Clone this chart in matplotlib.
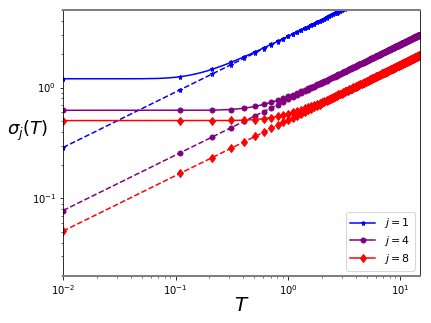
import numpy as np
import matplotlib
matplotlib.use('Agg')
import matplotlib.pyplot as plt
from matplotlib.lines import Line2D

# temperatures (marker positions)
T = [0.01, 0.11, 0.21, 0.31, 0.41, 0.51, 0.61, 0.71, 0.81, 0.91,
     1.01, 1.11, 1.21, 1.31, 1.41, 1.51, 1.61, 1.71, 1.81, 1.91,
     2.01, 2.11, 2.21, 2.31, 2.41, 2.51, 2.61, 2.71, 2.81, 2.91,
     3.01, 3.11, 3.21, 3.31, 3.41, 3.51, 3.61, 3.71, 3.81, 3.91,
     4.01, 4.11, 4.21, 4.31, 4.41, 4.51, 4.61, 4.71, 4.81, 4.91,
     5.01, 5.11, 5.21, 5.31, 5.41, 5.51, 5.61, 5.71, 5.81, 5.91,
     6.01, 6.11, 6.21, 6.31, 6.41, 6.51, 6.61, 6.71, 6.81, 6.91,
     7.01, 7.11, 7.21, 7.31, 7.41, 7.51, 7.61, 7.71, 7.81, 7.91,
     8.01, 8.11, 8.21, 8.31, 8.41, 8.51, 8.61, 8.71, 8.81, 8.91,
     9.01, 9.11, 9.21, 9.31, 9.41, 9.51, 9.61, 9.71, 9.81, 9.91,
     10.01, 10.11, 10.21, 10.31, 10.41, 10.51, 10.61, 10.71, 10.81, 10.91,
     11.01, 11.11, 11.21, 11.31, 11.41, 11.51, 11.61, 11.71, 11.81, 11.91,
     12.01, 12.11, 12.21, 12.31, 12.41, 12.51, 12.61, 12.71, 12.81, 12.91,
     13.01, 13.11, 13.21, 13.31, 13.41, 13.51, 13.61, 13.71, 13.81, 13.91,
     14.01, 14.11, 14.21, 14.31, 14.41, 14.51, 14.61, 14.71, 14.81, 14.91]

# j = 1 (visible part, up to the top of the frame)
sigma1_solid = [1.200, 1.252, 1.456, 1.683, 1.897, 2.095, 2.279, 2.450, 2.611, 2.763,
                2.908, 3.046, 3.178, 3.305, 3.428, 3.546, 3.661, 3.772, 3.880, 3.985,
                4.087, 4.187, 4.285, 4.380, 4.474, 4.565, 4.655, 4.743, 4.830, 4.915,
                4.998, 5.081, 5.161, 5.241]
sigma1_dashed = [0.2879, 0.955, 1.319, 1.603, 1.843, 2.056, 2.249, 2.426, 2.591, 2.746,
                 2.893, 3.033, 3.167, 3.295, 3.419, 3.538, 3.653, 3.765, 3.873, 3.979,
                 4.082, 4.182, 4.280, 4.376, 4.469, 4.561, 4.651, 4.739, 4.826, 4.911,
                 4.995, 5.077, 5.158, 5.238]
# extra points of the smooth j = 1 curve between markers
T1_extra = [0.03, 0.05, 0.07, 0.08, 0.09, 0.10, 0.13, 0.15, 0.17, 0.19, 0.26]
sigma1_extra = [1.200, 1.201, 1.208, 1.216, 1.226, 1.238, 1.286, 1.325, 1.367, 1.411, 1.571]

# j = 4
sigma4_solid = [0.6236, 0.6236, 0.6250, 0.6336, 0.6514, 0.6760, 0.7047, 0.7355, 0.7674, 0.7996,
                0.8316, 0.8632, 0.8943, 0.9248, 0.9547, 0.9840, 1.013, 1.041, 1.068, 1.095,
                1.121, 1.147, 1.172, 1.197, 1.222, 1.246, 1.269, 1.292, 1.315, 1.338,
                1.360, 1.382, 1.403, 1.424, 1.445, 1.465, 1.486, 1.506, 1.526, 1.545,
                1.564, 1.583, 1.602, 1.621, 1.639, 1.658, 1.676, 1.693, 1.711, 1.729,
                1.746, 1.763, 1.780, 1.797, 1.814, 1.830, 1.846, 1.863, 1.879, 1.895,
                1.911, 1.926, 1.942, 1.957, 1.973, 1.988, 2.003, 2.018, 2.033, 2.048,
                2.062, 2.077, 2.091, 2.106, 2.120, 2.134, 2.148, 2.162, 2.176, 2.190,
                2.204, 2.218, 2.231, 2.245, 2.258, 2.271, 2.285, 2.298, 2.311, 2.324,
                2.337, 2.350, 2.363, 2.375, 2.388, 2.401, 2.413, 2.426, 2.438, 2.450,
                2.463, 2.475, 2.487, 2.499, 2.511, 2.523, 2.535, 2.547, 2.559, 2.571,
                2.583, 2.594, 2.606, 2.617, 2.629, 2.640, 2.652, 2.663, 2.674, 2.686,
                2.697, 2.708, 2.719, 2.730, 2.741, 2.752, 2.763, 2.774, 2.785, 2.796,
                2.807, 2.818, 2.828, 2.839, 2.850, 2.860, 2.871, 2.881, 2.892, 2.902,
                2.913, 2.923, 2.933, 2.944, 2.954, 2.964, 2.974, 2.984, 2.994, 3.005]
sigma4_dashed = [0.0778, 0.2580, 0.3565, 0.4331, 0.4981, 0.5555, 0.6075, 0.6554, 0.7001, 0.7420,
                 0.7817, 0.8195, 0.8556, 0.8903, 0.9237, 0.9558, 0.9870, 1.017, 1.047, 1.075,
                 1.103, 1.130, 1.156, 1.182, 1.208, 1.232, 1.257, 1.281, 1.304, 1.327,
                 1.350, 1.372, 1.394, 1.415, 1.436, 1.457, 1.478, 1.498, 1.518, 1.538,
                 1.558, 1.577, 1.596, 1.615, 1.634, 1.652, 1.670, 1.688, 1.706, 1.724,
                 1.741, 1.758, 1.775, 1.792, 1.809, 1.826, 1.842, 1.859, 1.875, 1.891,
                 1.907, 1.923, 1.938, 1.954, 1.969, 1.985, 2.000, 2.015, 2.030, 2.045,
                 2.059, 2.074, 2.089, 2.103, 2.117, 2.132, 2.146, 2.160, 2.174, 2.188,
                 2.201, 2.215, 2.229, 2.242, 2.256, 2.269, 2.282, 2.296, 2.309, 2.322,
                 2.335, 2.348, 2.361, 2.373, 2.386, 2.399, 2.411, 2.424, 2.436, 2.449,
                 2.461, 2.473, 2.486, 2.498, 2.510, 2.522, 2.534, 2.546, 2.557, 2.569,
                 2.581, 2.593, 2.604, 2.616, 2.628, 2.639, 2.650, 2.662, 2.673, 2.684,
                 2.696, 2.707, 2.718, 2.729, 2.740, 2.751, 2.762, 2.773, 2.784, 2.795,
                 2.806, 2.816, 2.827, 2.838, 2.848, 2.859, 2.870, 2.880, 2.891, 2.901,
                 2.912, 2.922, 2.932, 2.943, 2.953, 2.963, 2.973, 2.983, 2.994, 3.004]

# j = 8
sigma8_solid = [0.5038, 0.5038, 0.5039, 0.5047, 0.5080, 0.5146, 0.5242, 0.5363, 0.5503, 0.5654,
                0.5814, 0.5979, 0.6148, 0.6317, 0.6486, 0.6655, 0.6823, 0.6989, 0.7154, 0.7316,
                0.7476, 0.7634, 0.7790, 0.7944, 0.8096, 0.8245, 0.8393, 0.8538, 0.8682, 0.8824,
                0.8963, 0.9101, 0.9237, 0.9372, 0.9504, 0.9635, 0.9765, 0.9893, 1.002, 1.014,
                1.027, 1.039, 1.051, 1.063, 1.075, 1.087, 1.098, 1.110, 1.121, 1.133,
                1.144, 1.155, 1.166, 1.177, 1.187, 1.198, 1.209, 1.219, 1.230, 1.240,
                1.250, 1.260, 1.270, 1.281, 1.290, 1.300, 1.310, 1.320, 1.330, 1.339,
                1.349, 1.358, 1.368, 1.377, 1.386, 1.395, 1.404, 1.414, 1.423, 1.432,
                1.441, 1.449, 1.458, 1.467, 1.476, 1.484, 1.493, 1.502, 1.510, 1.519,
                1.527, 1.535, 1.544, 1.552, 1.560, 1.568, 1.577, 1.585, 1.593, 1.601,
                1.609, 1.617, 1.625, 1.633, 1.641, 1.648, 1.656, 1.664, 1.672, 1.679,
                1.687, 1.695, 1.702, 1.710, 1.717, 1.725, 1.732, 1.739, 1.747, 1.754,
                1.761, 1.769, 1.776, 1.783, 1.790, 1.798, 1.805, 1.812, 1.819, 1.826,
                1.833, 1.840, 1.847, 1.854, 1.861, 1.868, 1.875, 1.882, 1.888, 1.895,
                1.902, 1.909, 1.915, 1.922, 1.929, 1.935, 1.942, 1.949, 1.955, 1.962]
sigma8_dashed = [0.0508, 0.1684, 0.2327, 0.2827, 0.3251, 0.3626, 0.3965, 0.4278, 0.4569, 0.4843,
                 0.5103, 0.5349, 0.5585, 0.5811, 0.6029, 0.6239, 0.6442, 0.6639, 0.6831, 0.7017,
                 0.7198, 0.7375, 0.7548, 0.7717, 0.7882, 0.8044, 0.8202, 0.8358, 0.8511, 0.8661,
                 0.8809, 0.8954, 0.9096, 0.9237, 0.9376, 0.9512, 0.9647, 0.9779, 0.9910, 1.004,
                 1.017, 1.029, 1.042, 1.054, 1.066, 1.078, 1.090, 1.102, 1.114, 1.125,
                 1.136, 1.148, 1.159, 1.170, 1.181, 1.192, 1.203, 1.213, 1.224, 1.234,
                 1.245, 1.255, 1.265, 1.275, 1.285, 1.295, 1.305, 1.315, 1.325, 1.335,
                 1.344, 1.354, 1.363, 1.373, 1.382, 1.391, 1.401, 1.410, 1.419, 1.428,
                 1.437, 1.446, 1.455, 1.464, 1.472, 1.481, 1.490, 1.498, 1.507, 1.516,
                 1.524, 1.532, 1.541, 1.549, 1.557, 1.566, 1.574, 1.582, 1.590, 1.598,
                 1.606, 1.614, 1.622, 1.630, 1.638, 1.646, 1.654, 1.662, 1.669, 1.677,
                 1.685, 1.692, 1.700, 1.707, 1.715, 1.722, 1.730, 1.737, 1.745, 1.752,
                 1.760, 1.767, 1.774, 1.781, 1.789, 1.796, 1.803, 1.810, 1.817, 1.824,
                 1.831, 1.838, 1.845, 1.852, 1.859, 1.866, 1.873, 1.880, 1.887, 1.894,
                 1.900, 1.907, 1.914, 1.921, 1.927, 1.934, 1.941, 1.947, 1.954, 1.960]

labels = ['$j = 1$', '$j = 4$', '$j = 8$']
colors = ['blue', 'purple', 'red']
markers = ['*', 'o', 'd']
msizes = [5, 5, 6]

T = np.array(T)
DPI = 72
fig = plt.figure(figsize=(431 / DPI, 323 / DPI), dpi=DPI)
ax = fig.add_axes([0.1462, 0.1455, 0.8283, 0.8235])
ax.set_xscale('log')
ax.set_yscale('log')

# j = 1 : smooth solid curve + markers
n1 = len(sigma1_solid)
t_line = np.concatenate([T[:n1], T1_extra])
s_line = np.concatenate([sigma1_solid, sigma1_extra])
order = np.argsort(t_line)
ax.plot(t_line[order], s_line[order], color=colors[0], lw=1.5)
ax.plot(T[:n1], sigma1_solid, ls='none', marker=markers[0], ms=msizes[0], color=colors[0])
ax.plot(T[:n1], sigma1_dashed, ls='--', marker=markers[0], ms=msizes[0], color=colors[0], lw=1.5)

for sol, das, c, m, ms in [(sigma4_solid, sigma4_dashed, colors[1], markers[1], msizes[1]),
                           (sigma8_solid, sigma8_dashed, colors[2], markers[2], msizes[2])]:
    ax.plot(T, sol, ls='-', marker=m, ms=ms, color=c, lw=1.5)
    ax.plot(T, das, ls='--', marker=m, ms=ms, color=c, lw=1.5)

ax.set_xlim(0.01, 14.91)
ax.set_ylim(0.02, 5)

for s in ['top', 'bottom']:
    ax.spines[s].set_color('gray')
    ax.spines[s].set_linewidth(2)

ax.set_xlabel('$T$', fontsize=20)
ax.xaxis.set_label_coords(0.5, -0.075)
ax.set_ylabel(r'$\sigma_j(T)$', fontsize=18, rotation=0)
ax.yaxis.set_label_coords(-0.10, 0.5)

handles = [Line2D([], [], color=c, marker=m, ms=ms, lw=1.5)
           for c, m, ms in zip(colors, markers, msizes)]
ax.legend(handles, labels, loc='lower right', fontsize=11, handlelength=2.3,
          labelspacing=0.35)

fig.savefig('out.png', dpi=DPI)
